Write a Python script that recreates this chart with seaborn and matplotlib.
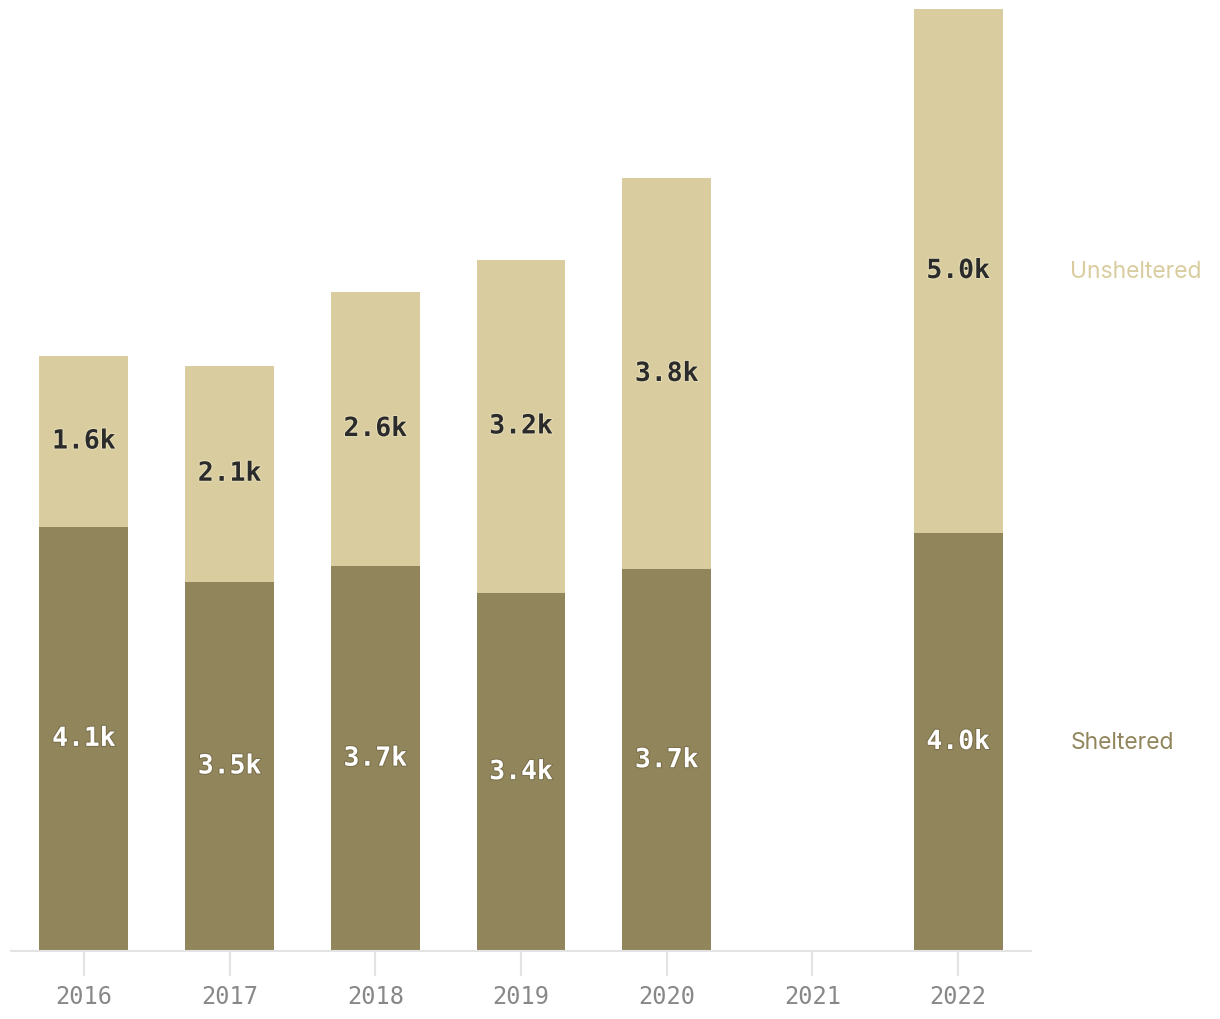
import matplotlib.pyplot as plt
import matplotlib.patheffects as pe
import numpy as np
import pandas as pd
import seaborn as sns

years = ["2016", "2017", "2018", "2019", "2020", "2021", "2022"]
sheltered = [4.08, 3.55, 3.70, 3.44, 3.67, np.nan, 4.02]
unsheltered = [1.64, 2.08, 2.64, 3.21, 3.76, np.nan, 5.04]

SHEL_COLOR = "#91855b"
UNSH_COLOR = "#d9cd9f"

df = pd.DataFrame({"year": years, "sheltered": sheltered, "unsheltered": unsheltered})
df["total"] = df["sheltered"] + df["unsheltered"]

sns.set_style("white")
plt.rcParams["font.family"] = ["DejaVu Sans"]

fig = plt.figure(figsize=(12.2, 10.2), dpi=100)
ax = fig.add_axes([11 / 1220, 68 / 1020, 1020 / 1220, 942 / 1020])

sns.barplot(data=df, x="year", y="total", order=years, color=UNSH_COLOR,
            width=0.61, saturation=1, linewidth=0, ax=ax)
sns.barplot(data=df, x="year", y="sheltered", order=years, color=SHEL_COLOR,
            width=0.61, saturation=1, linewidth=0, ax=ax)

ax.set_xlim(-0.5, 6.5)
ax.set_ylim(0, df["total"].max())

# value labels in the middle of each segment
for i, row in df.iterrows():
    if np.isnan(row["sheltered"]):
        continue
    ax.text(i, row["sheltered"] / 2, f"{row['sheltered']:.1f}k", ha="center", va="center",
            fontsize=19, fontweight="bold", family="DejaVu Sans Mono", color="white",
            path_effects=[pe.withStroke(linewidth=1.5, foreground="#7a6f4b")])
    ax.text(i, row["sheltered"] + row["unsheltered"] / 2, f"{row['unsheltered']:.1f}k",
            ha="center", va="center", fontsize=19, fontweight="bold",
            family="DejaVu Sans Mono", color="#2b2b2b",
            path_effects=[pe.withStroke(linewidth=1.5, foreground="#e6ddb8")])

# series labels at the right, level with the last bar
last = df.iloc[-1]
ax.text(6.77, last["sheltered"] / 2, "Sheltered", ha="left", va="center",
        fontsize=16.5, family=["Inter", "DejaVu Sans"], color=SHEL_COLOR, clip_on=False)
ax.text(6.77, last["sheltered"] + last["unsheltered"] / 2, "Unsheltered", ha="left", va="center",
        fontsize=16.5, family=["Inter", "DejaVu Sans"], color=UNSH_COLOR, clip_on=False)

sns.despine(ax=ax, left=True, top=True, right=True)
ax.spines["bottom"].set_color("#e3e3e3")
ax.spines["bottom"].set_linewidth(1.5)
ax.set_yticks([])
ax.set_xlabel("")
ax.set_ylabel("")
ax.tick_params(axis="x", bottom=True, length=18, width=1.5, color="#e3e3e3", pad=6,
               labelsize=17, labelcolor="#888888")
for lab in ax.get_xticklabels():
    lab.set_family("DejaVu Sans Mono")

fig.savefig("out.png", dpi=100)
